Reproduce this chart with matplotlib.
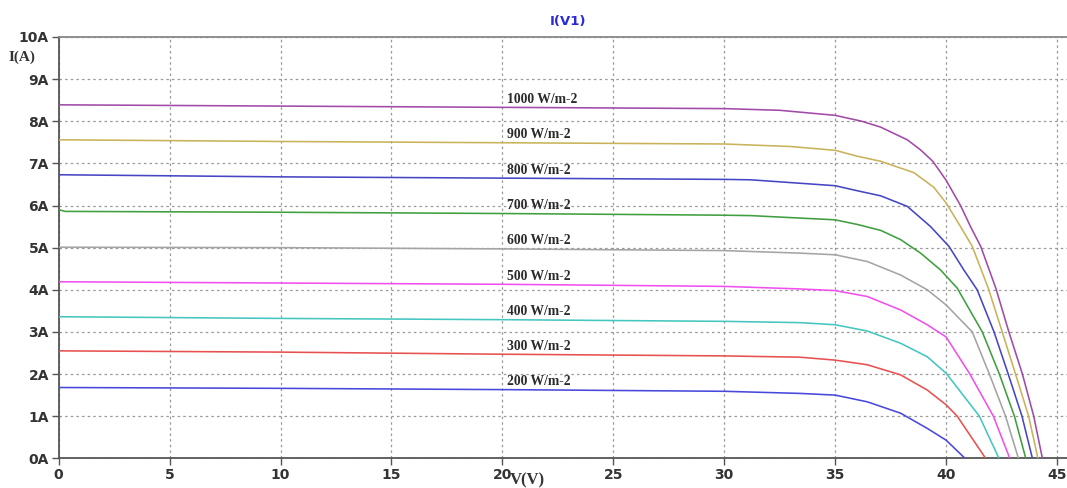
import matplotlib
matplotlib.use("Agg")
import matplotlib.pyplot as plt

# ---- data ----
irradiance_labels = ["1000 W/m-2", "900 W/m-2", "800 W/m-2", "700 W/m-2", "600 W/m-2",
                     "500 W/m-2", "400 W/m-2", "300 W/m-2", "200 W/m-2"]
colors = ["#a24aa8", "#c9b25a", "#4646c4", "#3f9f3f", "#a4a4a4",
          "#f050f0", "#45c6c0", "#e85050", "#4848dc"]

v_1000 = [0, 10, 20, 30, 32.5, 35, 36.2, 37.05, 38.25, 38.85, 39.4, 40.0, 40.65, 41.1, 41.56, 42.24, 42.83, 43.44, 43.95, 44.34]
i_1000 = [8.39, 8.36, 8.33, 8.30, 8.26, 8.14, 8.0, 7.86, 7.56, 7.32, 7.05, 6.60, 6.0, 5.5, 5.03, 4.04, 3.0, 2.0, 1.0, 0.0]

v_900 = [0, 10, 20, 30, 33, 35, 36, 37.05, 38.55, 39.45, 40.0, 40.65, 41.18, 41.9, 42.53, 43.13, 43.72, 44.14]
i_900 = [7.56, 7.52, 7.49, 7.46, 7.40, 7.31, 7.17, 7.05, 6.78, 6.43, 6.06, 5.50, 5.03, 4.04, 3.0, 2.0, 1.0, 0.0]

v_800 = [0, 10, 20, 30, 31.2, 35, 36, 37.05, 38.25, 39.3, 40.13, 40.8, 41.4, 42.16, 42.8, 43.42, 43.89]
i_800 = [6.73, 6.68, 6.65, 6.62, 6.61, 6.47, 6.35, 6.23, 5.98, 5.50, 5.03, 4.47, 4.0, 3.0, 2.0, 1.0, 0.0]

v_700 = [0, 0.3, 10, 20, 30, 31.2, 35, 36, 37.05, 37.95, 38.85, 39.75, 40.5, 41.63, 42.4, 43.08, 43.59]
i_700 = [5.90, 5.86, 5.84, 5.81, 5.77, 5.76, 5.66, 5.55, 5.41, 5.19, 4.87, 4.47, 4.04, 3.0, 2.0, 1.0, 0.0]

v_600 = [0, 10, 20, 30, 33.4, 35, 36.45, 37.95, 39.15, 40.0, 41.18, 41.95, 42.68, 43.26]
i_600 = [5.01, 5.00, 4.97, 4.93, 4.87, 4.83, 4.67, 4.35, 4.0, 3.64, 3.0, 2.0, 1.0, 0.0]

v_500 = [0, 10, 20, 30, 33.4, 35, 36.45, 37.95, 39.15, 40.0, 41.07, 42.13, 42.87]
i_500 = [4.19, 4.16, 4.13, 4.08, 4.02, 3.98, 3.84, 3.52, 3.17, 2.88, 2.0, 1.0, 0.0]

v_400 = [0, 10, 20, 30, 33.4, 35, 36.45, 37.95, 39.15, 40.0, 41.5, 42.38]
i_400 = [3.36, 3.32, 3.29, 3.25, 3.22, 3.17, 3.02, 2.73, 2.41, 2.02, 1.0, 0.0]

v_300 = [0, 10, 20, 30, 33.4, 35, 36.45, 37.95, 39.15, 40.0, 40.5, 41.78]
i_300 = [2.55, 2.52, 2.47, 2.43, 2.40, 2.33, 2.22, 1.98, 1.62, 1.27, 1.0, 0.0]

v_200 = [0, 10, 20, 30, 33.4, 35, 36.45, 37.95, 39.15, 40.0, 40.85]
i_200 = [1.68, 1.66, 1.63, 1.59, 1.54, 1.50, 1.34, 1.07, 0.71, 0.43, 0.0]

voltages = [v_1000, v_900, v_800, v_700, v_600, v_500, v_400, v_300, v_200]
currents = [i_1000, i_900, i_800, i_700, i_600, i_500, i_400, i_300, i_200]

x_ticks = [0, 5, 10, 15, 20, 25, 30, 35, 40, 45]
y_ticks = [0, 1, 2, 3, 4, 5, 6, 7, 8, 9, 10]
y_tick_labels = [f"{t}A" for t in y_ticks]
label_voltage = 20.2

# ---- figure ----
fig = plt.figure(figsize=(10.67, 4.88), dpi=100)
ax = fig.add_axes([0.0550, 0.0609, 0.9450, 0.8633])

for v, i, c in zip(voltages, currents, colors):
    ax.plot(v, i, color=c, lw=1.15, solid_joinstyle="round", zorder=3)

for v, i, lab in zip(voltages, currents, irradiance_labels):
    y_at = i[v.index(20)]
    ax.text(label_voltage, y_at + 0.19, lab, fontsize=9.8, fontweight="bold",
            family="Liberation Serif", color="#2a2a2a", ha="left", va="center", zorder=4)

ax.set_xlim(0, 45.45)
ax.set_ylim(0, 10)
ax.set_xticks(x_ticks)
ax.set_xticklabels([str(t) for t in x_ticks])
ax.set_yticks(y_ticks)
ax.set_yticklabels(y_tick_labels)

ax.grid(True, color="#999999", linestyle=(0, (2, 2.5)), lw=0.9)
ax.spines["right"].set_visible(False)
ax.spines["top"].set_color("#888888")
ax.spines["left"].set_color("#555555")
ax.spines["bottom"].set_color("#555555")
for s in ("top", "left", "bottom"):
    ax.spines[s].set_linewidth(1.3)

ax.tick_params(axis="both", direction="out", length=5, width=1.0, colors="#555555",
               labelcolor="#333333", labelsize=10, pad=2)
for lbl in ax.get_xticklabels() + ax.get_yticklabels():
    lbl.set_fontweight("bold")
    lbl.set_family("DejaVu Sans")

fig.text(0.532, 0.955, "I(V1)", color="#2a2ad8", fontsize=9.5, fontweight="bold",
         ha="center", va="center", family="DejaVu Sans")
fig.text(0.021, 0.883, "I(A)", color="#333333", fontsize=11, fontweight="bold",
         ha="center", va="center", family="Liberation Serif")
fig.text(0.494, 0.015, "V(V)", color="#333333", fontsize=12, fontweight="bold",
         ha="center", va="center", family="Liberation Serif")

fig.savefig("out.png", dpi=100)
